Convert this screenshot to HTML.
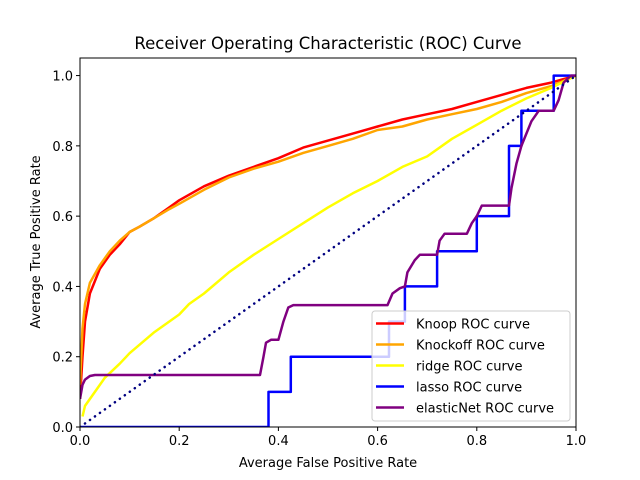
<!DOCTYPE html>
<html><head><meta charset="utf-8"><style>body{margin:0;background:#fff}svg{display:block;font-family:"DejaVu Sans","Liberation Sans",sans-serif}</style></head>
<body>
<svg id="c" width="640" height="480"></svg>
<script>
const xTicks=[0,0.2,0.4,0.6,0.8,1.0];
const yTicks=[0,0.2,0.4,0.6,0.8,1.0];
const tickLabels=["0.0","0.2","0.4","0.6","0.8","1.0"];
const seriesNames=["Knoop ROC curve","Knockoff ROC curve","ridge ROC curve","lasso ROC curve","elasticNet ROC curve"];
const seriesColors=["#ff0000","#ffa500","#ffff00","#0000ff","#800080"];
const knoopX=[0,0.005,0.01,0.02,0.04,0.06,0.08,0.1,0.12,0.15,0.18,0.2,0.25,0.3,0.35,0.4,0.45,0.5,0.55,0.6,0.65,0.7,0.75,0.8,0.85,0.9,0.95,1];
const knoopY=[0.08,0.2,0.3,0.38,0.45,0.49,0.52,0.555,0.57,0.595,0.625,0.645,0.685,0.715,0.74,0.765,0.795,0.815,0.835,0.855,0.875,0.89,0.905,0.925,0.945,0.965,0.98,1];
const knockoffX=[0,0.005,0.01,0.02,0.04,0.06,0.08,0.1,0.12,0.15,0.18,0.2,0.25,0.3,0.35,0.4,0.45,0.5,0.55,0.6,0.65,0.7,0.75,0.8,0.85,0.9,0.95,1];
const knockoffY=[0.12,0.28,0.35,0.41,0.46,0.5,0.53,0.555,0.57,0.595,0.62,0.635,0.675,0.71,0.735,0.755,0.78,0.8,0.82,0.845,0.855,0.875,0.89,0.905,0.925,0.95,0.97,1];
const ridgeX=[0.005,0.01,0.03,0.05,0.08,0.1,0.15,0.2,0.22,0.25,0.3,0.35,0.4,0.45,0.5,0.55,0.6,0.65,0.7,0.75,0.8,0.85,0.9,0.95,1];
const ridgeY=[0.03,0.06,0.1,0.14,0.18,0.21,0.27,0.32,0.35,0.38,0.44,0.49,0.535,0.58,0.625,0.665,0.7,0.74,0.77,0.82,0.86,0.9,0.935,0.965,1];
const lassoX=[0,0.38,0.38,0.425,0.425,0.623,0.623,0.655,0.655,0.72,0.72,0.8,0.8,0.865,0.865,0.89,0.89,0.955,0.955,1];
const lassoY=[0,0,0.1,0.1,0.2,0.2,0.3,0.3,0.4,0.4,0.5,0.5,0.6,0.6,0.8,0.8,0.9,0.9,1,1];
const enetX=[0,0.005,0.01,0.02,0.03,0.363,0.37,0.375,0.385,0.4,0.41,0.42,0.43,0.62,0.63,0.645,0.655,0.66,0.675,0.685,0.72,0.725,0.735,0.78,0.79,0.8,0.81,0.865,0.87,0.88,0.89,0.91,0.925,0.955,0.965,0.975,0.99,1];
const enetY=[0.08,0.12,0.135,0.145,0.148,0.148,0.2,0.24,0.248,0.248,0.3,0.34,0.347,0.347,0.38,0.395,0.4,0.44,0.475,0.49,0.49,0.53,0.55,0.55,0.58,0.6,0.63,0.63,0.68,0.75,0.8,0.87,0.9,0.9,0.93,0.98,1,1];
const seriesX=[knoopX,knockoffX,ridgeX,lassoX,enetX];
const seriesY=[knoopY,knockoffY,ridgeY,lassoY,enetY];
const L=80,R=576,T=58,B=427;
const sx=v=>L+(R-L)*v;
const sy=v=>B-(B-T)*v/1.05;
const svg=document.getElementById('c');
const NS='http://www.w3.org/2000/svg';
function mk(tag,attrs,parent){const e=document.createElementNS(NS,tag);for(const k in attrs)e.setAttribute(k,attrs[k]);(parent||svg).appendChild(e);return e;}
const title=mk('text',{x:328,y:49,'text-anchor':'middle','font-size':16.5,fill:'#000'});
title.textContent='Receiver Operating Characteristic (ROC) Curve';


const clip=mk('clipPath',{id:'cp'});mk('rect',{x:L,y:T,width:R-L,height:B-T},clip);
const plot=mk('g',{'clip-path':'url(#cp)'});


seriesX.forEach((xs,i)=>{
  const d=xs.map((x,j)=>(j?'L':'M')+sx(x).toFixed(1)+' '+sy(seriesY[i][j]).toFixed(1)).join(' ');
  const p=mk('path',{d:d,fill:'none',stroke:seriesColors[i],'stroke-width':2.5,'stroke-linejoin':'round'},plot);
  
  
});
const diag=mk('line',{x1:sx(0),y1:sy(0),x2:sx(1),y2:sy(1),stroke:'#000080','stroke-width':2.5,'stroke-dasharray':'0.1 6','stroke-linecap':'round'},plot);


const frame=mk('rect',{x:L,y:T,width:R-L,height:B-T,fill:'none',stroke:'#000','stroke-width':1});


xTicks.forEach((v,i)=>{
  mk('line',{x1:sx(v),y1:B,x2:sx(v),y2:B+4,stroke:'#000'});
  const t=mk('text',{x:sx(v),y:B+18,'text-anchor':'middle','font-size':13});t.textContent=tickLabels[i];
  
  
});
yTicks.forEach((v,i)=>{
  mk('line',{x1:L-4,y1:sy(v),x2:L,y2:sy(v),stroke:'#000'});
  const t=mk('text',{x:L-7,y:sy(v)+5,'text-anchor':'end','font-size':13});t.textContent=tickLabels[i];
  
  
});
const xl=mk('text',{x:328,y:467,'text-anchor':'middle','font-size':13});xl.textContent='Average False Positive Rate';


const yl=mk('text',{x:40,y:242,'text-anchor':'middle','font-size':13,transform:'rotate(-90 40 242)'});yl.textContent='Average True Positive Rate';


const lg=mk('g',{});


mk('rect',{x:372,y:311,width:198,height:110,rx:3,fill:'#fff','fill-opacity':0.8,stroke:'#ccc'},lg);
seriesNames.forEach((n,i)=>{
  const y=323.5+i*21;
  const e=mk('g',{},lg);
  
  
  mk('line',{x1:376,y1:y,x2:404,y2:y,stroke:seriesColors[i],'stroke-width':2.5},e);
  const t=mk('text',{x:416,y:y+5,'font-size':13},e);t.textContent=n;
});
</script>
</body></html>
